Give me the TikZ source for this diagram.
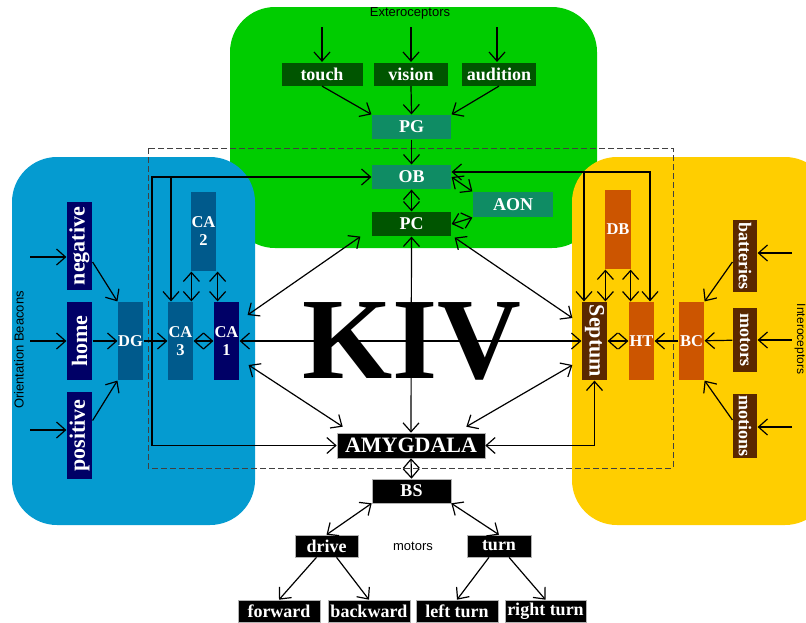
\documentclass[tikz,border=0pt]{standalone}
\usepackage{fontspec}
\setmainfont{Liberation Serif}
\setsansfont{Liberation Sans}
\usepackage{graphicx}
\usetikzlibrary{positioning,arrows.meta,calc}
\definecolor{kgreen}{RGB}{0,204,0}
\definecolor{kblue}{RGB}{5,155,208}
\definecolor{kyellow}{RGB}{255,206,0}
\definecolor{dkgreen}{RGB}{0,85,0}
\definecolor{tealbox}{RGB}{15,140,100}
\definecolor{navybox}{RGB}{0,0,102}
\definecolor{steelbox}{RGB}{0,90,140}
\definecolor{orangebox}{RGB}{204,85,0}
\definecolor{brownbox}{RGB}{90,40,0}

\begin{document}
\begin{tikzpicture}[x=1pt,y=-1pt,line width=1.2pt,>={Straight Barb[length=9pt,width=16pt]},
    cell/.style={inner sep=0pt,text=white,align=center,minimum height=24pt,font=\bfseries\fontsize{18}{18}\selectfont},
    dkg/.style={cell,fill=dkgreen},
    tea/.style={cell,fill=tealbox},
    blk/.style={cell,fill=black,draw=gray!60,line width=0.6pt},
    col/.style={cell,minimum width=25pt,minimum height=78pt},
    nav/.style={col,fill=navybox},
    stl/.style={col,fill=steelbox},
    org/.style={col,fill=orangebox},
    brn/.style={col,fill=brownbox},
    big/.style={font=\bfseries\fontsize{22}{22}\selectfont},
    sml/.style={font=\bfseries\fontsize{16.5}{18}\selectfont},
    lbl/.style={font=\sffamily\fontsize{13}{13}\selectfont}]
    \useasboundingbox (0,0) rectangle (806,622);
    \clip (0,0) rectangle (806,622);
    \fill[kgreen,rounded corners=45pt] (230,7) rectangle (597,248);
    \fill[kblue,rounded corners=45pt] (12,157) rectangle (255,525);
    \fill[kyellow,rounded corners=45pt] (572,157) rectangle (830,525);
    \draw[gray!50!black,line width=1pt,dash pattern=on 6pt off 3pt] (148,148) rectangle (673,468);

    \node[lbl] (ext) at (410,13) {Exteroceptors};
    \node[dkg,minimum width=81pt,minimum height=23pt] (touch) at (322,74) {touch};
    \node[dkg,minimum width=74pt,minimum height=23pt] (vision) at (411,74) {vision};
    \node[dkg,minimum width=74pt,minimum height=23pt] (audition) at (499,74) {audition};
    \node[tea,minimum width=79pt] (pg) at (411.5,127) {PG};
    \node[tea,minimum width=79pt] (ob) at (411.5,177) {OB};
    \node[dkg,minimum width=79pt] (pc) at (411.5,224) {PC};
    \node[tea,minimum width=80pt,minimum height=25pt] (aon) at (513,204.5) {AON};

    \node[lbl,rotate=90] (orient) at (19,350) {Orientation Beacons};
    \node[nav,big,minimum height=88pt] (neg) at (79.5,246) {\rotatebox{90}{negative}};
    \node[nav,big] (home) at (79.5,341) {\rotatebox{90}{home}};
    \node[nav,big,minimum height=87pt] (pos) at (79.5,435.5) {\rotatebox{90}{positive}};
    \node[stl,sml] (dg) at (130.5,341) {DG};
    \node[stl,sml] (ca3) at (180.5,341) {CA\\3};
    \node[nav,sml] (ca1) at (226.5,341) {CA\\1};
    \node[stl,sml,minimum height=79pt] (ca2) at (203.5,231.5) {CA\\2};

    \node[org,sml,minimum width=26pt,minimum height=79pt] (db) at (618,229.5) {DB};
    \node[brn,big] (sep) at (594.5,341) {\rotatebox{-90}{Septum}};
    \node[org,sml] (ht) at (641.5,341) {HT};
    \node[org,sml] (bc) at (691.5,341) {BC};
    \node[brn,minimum width=24pt,minimum height=72pt] (bat) at (745,256) {\rotatebox{-90}{batteries}};
    \node[brn,minimum width=24pt,minimum height=64pt] (mot) at (745,340) {\rotatebox{-90}{motors}};
    \node[brn,minimum width=24pt,minimum height=64pt] (motn) at (745,426) {\rotatebox{-90}{motions}};
    \node[lbl,font=\sffamily\fontsize{12}{12}\selectfont,rotate=-90,inner sep=0pt] (intero) at (800,339) {Interoceptors};

    \node[font=\bfseries\fontsize{116}{116}\selectfont] (kiv) at (412,341) {KIV};
    \node[blk,big,minimum width=148pt,minimum height=25pt] (amy) at (411,445.5) {AMYGDALA};
    \node[blk,minimum width=79pt] (bs) at (411.5,491) {BS};
    \node[blk,minimum width=63pt,minimum height=22pt] (drive) at (326.5,546) {drive};
    \node[blk,minimum width=64pt,minimum height=22pt] (turn) at (499,546) {turn};
    \node[lbl] (motlbl) at (413,546) {motors};
    \node[blk,minimum width=82pt,minimum height=22pt] (fwd) at (279,611) {forward};
    \node[blk,minimum width=82pt,minimum height=22pt] (bwd) at (369,611) {backward};
    \node[blk,minimum width=82pt,minimum height=22pt] (lt) at (457,611) {left turn};
    \node[blk,minimum width=81pt,minimum height=22pt] (rt) at (545.5,611) {right turn};

    \coordinate (e1) at (322,27);
    \coordinate (e2) at (411,27);
    \coordinate (e3) at (497,27);
    \coordinate (o1) at (30,257);
    \coordinate (o2) at (30,341);
    \coordinate (o3) at (30,430);
    \coordinate (i1) at (792,253);
    \coordinate (i2) at (792,340);
    \coordinate (i3) at (792,427);
    \coordinate (lb) at (152,445.5);
    \coordinate (lb3) at (171,177);
    \coordinate (rb) at (650,172);
    \coordinate (rb2) at (584,172);

    \foreach \n/\c in {touch/e1,vision/e2,audition/e3} {\draw[->] (\c) -- (\c |- \n.north);}
    \foreach \n/\c in {neg/o1,home/o2,pos/o3} {\draw[->] (\c) -- (\c -| \n.west);}
    \foreach \n/\c in {bat/i1,mot/i2,motn/i3} {\draw[->] (\c) -- (\c -| \n.east);}
    \draw[->] (touch.south) -- (pg.north west);
    \draw[->] (vision.south) -- (pg.north);
    \draw[->] (audition.south) -- (pg.north east);
    \draw[->] (pg) -- (ob);
    \draw[<->] (ob) -- (pc);
    \draw[<->] (ob.east) -- (aon.north west);
    \draw[<->] (pc.east) -- (aon.south west);

    \draw[->] ([yshift=-16pt]neg.east) -- (dg.north west);
    \draw[->] (home) -- (dg);
    \draw[->] ([yshift=15pt]pos.east) -- (dg.south west);
    \draw[->] (dg) -- (ca3);
    \draw[<->] (ca3) -- (ca1);
    \draw[<->] ([xshift=1pt]ca2.south west) -- ([xshift=1pt]ca2.south west |- ca3.north);
    \draw[<->] ([xshift=1pt]ca2.south east) -- ([xshift=1pt]ca2.south east |- ca1.north);

    \draw[->] ([yshift=-6pt]bat.west) -- (bc.north east);
    \draw[->] (mot) -- (bc);
    \draw[->] ([yshift=6pt]motn.west) -- (bc.south east);
    \draw[->] (bc) -- (ht);
    \draw[<->] (ht) -- (sep);
    \draw[<->] ([xshift=1pt]db.south west) -- ([xshift=1pt]db.south west |- sep.north);
    \draw[<->] ([xshift=-1pt]db.south east) -- ([xshift=-1pt]db.south east |- ht.north);

    \draw[<->] (ob.west) -| (lb) -- (amy.west);
    \draw[->] (lb3) -- (lb3 |- ca3.north);
    \draw[<->] ([yshift=5pt]ob.east) -- (rb) -- (rb |- ht.north);
    \draw[->] (rb2) -- (rb2 |- sep.north);

    \draw[<->] ([xshift=-11pt]pc.south west) -- ([xshift=8pt,yshift=26pt]ca1.east);
    \draw[<->] (pc.south) -- (amy.north);
    \draw[<->] ([xshift=3pt,yshift=-1pt]pc.south east) -- ([xshift=-9pt,yshift=23pt]sep.west);
    \draw[<->] (ca1.east) -- (sep.west);
    \draw[<->] ([xshift=9pt,yshift=-24pt]ca1.east) -- ([xshift=6pt,yshift=6pt]amy.north west);
    \draw[<->] ([xshift=-9pt,yshift=-24pt]sep.west) -- ([xshift=-19pt,yshift=6pt]amy.north east);
    \draw[<->] (amy.east) -| (sep.south);

    \draw[<->] (amy.south) -- (bs.north);
    \draw[<->] (bs.south west) -- (drive.north);
    \draw[<->] (bs.south east) -- (turn.north);
    \draw[->] ([xshift=-10pt]drive.south) -- (fwd.north);
    \draw[->] ([xshift=10pt]drive.south) -- (bwd.north);
    \draw[->] ([xshift=-10pt]turn.south) -- (lt.north);
    \draw[->] ([xshift=10pt]turn.south) -- (rt.north);
\end{tikzpicture}
\end{document}
